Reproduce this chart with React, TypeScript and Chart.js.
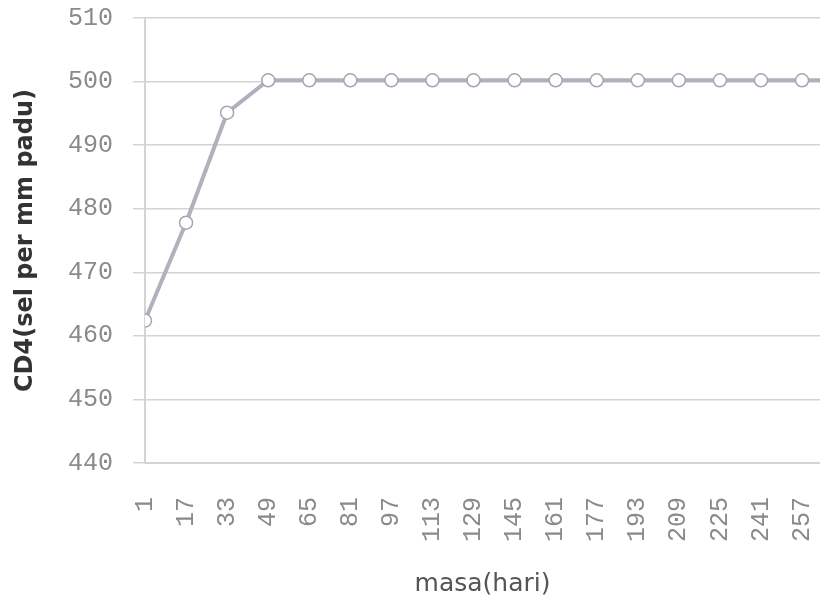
import React, { useEffect, useRef } from "react";
import { Chart, registerables } from "chart.js";

Chart.register(...registerables);

// x tick labels (masa, hari)
const xTickLabels = [1, 17, 33, 49, 65, 81, 97, 113, 129, 145, 161, 177, 193, 209, 225, 241, 257];
// days of the series (the last one lies beyond the visible right edge)
const days = [1, 17, 33, 49, 65, 81, 97, 113, 129, 145, 161, 177, 193, 209, 225, 241, 257, 273];
// CD4 values (sel per mm padu)
const cd4Values = [462.4, 477.8, 495.1, 500.2, 500.2, 500.2, 500.2, 500.2, 500.2, 500.2, 500.2, 500.2, 500.2, 500.2, 500.2, 500.2, 500.2, 500.2];
const yTicks = [440, 450, 460, 470, 480, 490, 500, 510];

const CANVAS_W = 828;
const CANVAS_H = 609;

export default function App() {
  const ref = useRef<HTMLCanvasElement>(null);
  useEffect(() => {
    if (!ref.current) return;
    const gridColor = "#d4d4d4";
    const tickFont = { family: "'Liberation Mono', monospace", size: 25 };
    const chart = new Chart(ref.current, {
      type: "line",
      data: {
        datasets: [
          {
            data: days.map((d, i) => ({ x: d, y: cd4Values[i] })),
            borderColor: "#b4aebd",
            borderWidth: 4,
            pointRadius: 6.5,
            pointBackgroundColor: "#ffffff",
            pointBorderColor: "#aaa4b2",
            pointBorderWidth: 1.5,
            tension: 0,
          },
        ],
      },
      options: {
        animation: false,
        responsive: false,
        maintainAspectRatio: false,
        layout: { padding: 0 },
        plugins: { legend: { display: false }, tooltip: { enabled: false } },
        scales: {
          x: {
            type: "linear",
            min: 1,
            max: 264,
            afterBuildTicks: (scale: any) => {
              scale.ticks = xTickLabels.map((v) => ({ value: v }));
            },
            afterFit: (scale: any) => {
              scale.height = 146;
              scale.paddingLeft = 0;
              scale.paddingRight = 0;
            },
            grid: { display: false, drawTicks: false },
            border: { display: true, color: gridColor, width: 2 },
            ticks: {
              font: tickFont,
              color: "#8a8a8a",
              maxRotation: 90,
              minRotation: 90,
              padding: 34,
              autoSkip: false,
            },
            title: {
              display: true,
              text: "masa(hari)",
              color: "#555555",
              font: { family: "'DejaVu Sans', sans-serif", size: 25 },
              padding: { top: 12, bottom: 10 },
            },
          },
          y: {
            min: 440,
            max: 510,
            afterBuildTicks: (scale: any) => {
              scale.ticks = yTicks.map((v) => ({ value: v }));
            },
            afterFit: (scale: any) => {
              scale.width = 145;
              scale.paddingTop = 18;
              scale.paddingBottom = 0;
            },
            grid: { color: gridColor, lineWidth: 1.5, tickLength: 12, drawTicks: true },
            border: { display: true, color: gridColor, width: 2 },
            ticks: { font: tickFont, color: "#8a8a8a", padding: 20 },
            title: {
              display: true,
              text: "CD4(sel per mm padu)",
              color: "#333333",
              font: { family: "'DejaVu Sans', sans-serif", size: 24, weight: "bold" },
              padding: { top: 11, bottom: 9 },
            },
          },
        },
      },
    });
    return () => chart.destroy();
  }, []);
  return (
    <div style={{ position: "absolute", left: 0, top: 0, width: 820, height: 609, overflow: "hidden", background: "#fff" }}>
      <canvas ref={ref} width={CANVAS_W} height={CANVAS_H} style={{ width: CANVAS_W, height: CANVAS_H, display: "block" }} />
    </div>
  );
}
